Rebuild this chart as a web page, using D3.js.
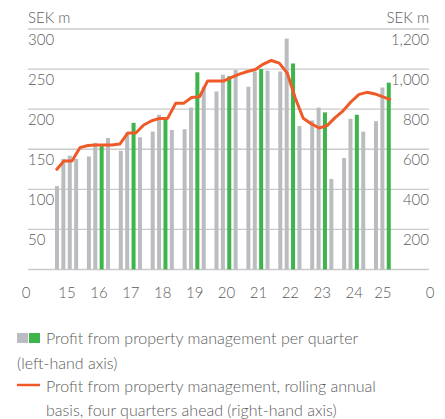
<!DOCTYPE html>
<html lang="en">
<head>
<meta charset="UTF-8">
<title>Profit from property management</title>
<script src="https://cdnjs.cloudflare.com/ajax/libs/d3/7.8.5/d3.min.js"></script>
<style>
*{margin:0;padding:0;box-sizing:border-box}
body{background:#fff;width:445px;height:419px;overflow:hidden}
svg{display:block}
</style>
</head>
<body>
<div id="chart"></div>
<script>
// quarters 2015 Q1 .. 2025 Q3
const years = [2015,2016,2017,2018,2019,2020,2021,2022,2023,2024,2025];
const yearLabels = ["15","16","17","18","19","20","21","22","23","24","25"];
// profit per quarter, SEK m (left axis), one array per year
const profitQuarter = [
  [104,138,142,138],
  [141,158,154,164],
  [148,171,183,165],
  [172,193,187,174],
  [175,202,246,228],
  [222,243,241,249],
  [228,247,250,248],
  [247,288,257,179],
  [186,202,196,113],
  [139,188,193,172],
  [185,227,233]
];
// highlighted (green) quarters
const greenQuarters = ["2016Q3","2017Q3","2018Q3","2019Q3","2020Q3","2021Q3","2022Q3","2023Q3","2024Q3","2025Q3"];
// rolling annual, four quarters ahead, SEK m (right axis)
const rollingAnnual = [
  [495,541,541,608],
  [619,621,621,621],
  [626,681,681,721],
  [742,754,754,829],
  [829,858,862,940],
  [940,940,959,975],
  [988,998,1025,1043],
  [1030,980,856,755],
  [727,706,718,758],
  [792,837,874,884],
  [876,861,846]
];
const leftTicks = [50,100,150,200,250,300];
const rightTicks = [200,400,600,800,1000,1200];

const W=445,H=419;
const font="Lato, 'Open Sans', sans-serif";
const textCol="#5b5b5b";
const grey="#babcbf", green="#3db54a", orange="#f05a28";

const svg=d3.select('#chart').append('svg').attr('width',W).attr('height',H)
  .attr('font-family',font).attr('font-weight',300);

// slot index: 4 quarters + 1 gap per year
const x=d3.scaleLinear().domain([0,54]).range([57,57+54*6.38]);
const yL=d3.scaleLinear().domain([0,300]).range([269.5,29]);
const yR=d3.scaleLinear().domain([0,1200]).range([269.5,29]);

const gL=28,gR=429;
// gridlines incl. baseline
[0,...leftTicks].forEach(v=>{
  svg.append('line').attr('x1',gL).attr('x2',gR).attr('y1',yL(v)).attr('y2',yL(v))
    .attr('stroke','#cacaca').attr('stroke-width',1.4);
});
leftTicks.forEach(v=>{
  svg.append('text').attr('x',gL).attr('y',yL(v)+16).attr('font-size','15px').attr('fill',textCol).text(v);
});
rightTicks.forEach(v=>{
  svg.append('text').attr('x',gR).attr('y',yR(v)+16).attr('text-anchor','end').attr('font-size','15px')
    .attr('fill',textCol).text(d3.format(',')(v));
});
svg.append('text').attr('x',26).attr('y',298).attr('text-anchor','middle').attr('font-size','15px').attr('fill',textCol).text('0');
svg.append('text').attr('x',430).attr('y',298).attr('text-anchor','middle').attr('font-size','15px').attr('fill',textCol).text('0');
svg.append('text').attr('x',gL).attr('y',23).attr('font-size','15px').attr('fill',textCol).text('SEK m');
svg.append('text').attr('x',gR).attr('y',23).attr('text-anchor','end').attr('font-size','15px').attr('fill',textCol).text('SEK m');

// bars
const bars=[];
profitQuarter.forEach((arr,yi)=>arr.forEach((v,qi)=>{
  bars.push({key:years[yi]+'Q'+(qi+1),t:yi*5+qi,v});
}));
const bw=4;
svg.append('g').selectAll('rect').data(bars).join('rect')
  .attr('x',d=>x(d.t)-bw/2).attr('width',bw)
  .attr('y',d=>yL(d.v)).attr('height',d=>yL(0)-yL(d.v))
  .attr('fill',d=>greenQuarters.includes(d.key)?green:grey);

// year labels centred on each year's bars
yearLabels.forEach((l,yi)=>{
  const n=profitQuarter[yi].length;
  svg.append('text').attr('x',x(yi*5+(n-1)/2)+0.5).attr('y',298).attr('text-anchor','middle')
    .attr('font-size','15px').attr('fill',textCol).text(l);
});

// rolling line, quarters spread evenly over the year
const pts=[];
rollingAnnual.forEach((arr,yi)=>arr.forEach((v,qi)=>pts.push({t:yi*5+qi*1.25,v})));
svg.append('path').datum(pts)
  .attr('d',d3.line().x(d=>x(d.t)-1).y(d=>yR(d.v)))
  .attr('fill','none').attr('stroke',orange).attr('stroke-width',3).attr('stroke-linejoin','round');

// legend
const lg=svg.append('g').attr('font-size','16px').attr('fill',textCol);
lg.append('rect').attr('x',17).attr('y',333).attr('width',11).attr('height',10).attr('fill',grey);
lg.append('rect').attr('x',29).attr('y',333).attr('width',11).attr('height',10).attr('fill',green);
lg.append('text').attr('x',46).attr('y',344).text('Profit from property management per quarter');
lg.append('text').attr('x',17).attr('y',369).text('(left-hand axis)');
lg.append('line').attr('x1',17).attr('x2',40).attr('y1',385).attr('y2',385).attr('stroke',orange).attr('stroke-width',2.5);
lg.append('text').attr('x',46).attr('y',392).text('Profit from property management, rolling annual');
lg.append('text').attr('x',46).attr('y',416).text('basis, four quarters ahead (right-hand axis)');
</script>
</body>
</html>
